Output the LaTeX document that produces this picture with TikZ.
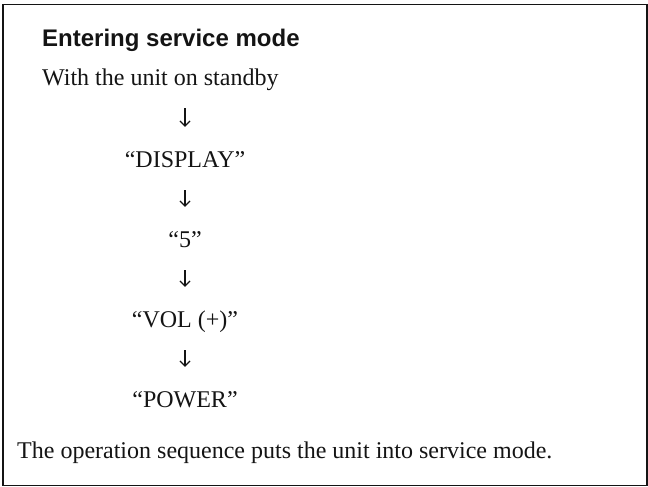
\documentclass[tikz,border=0pt]{standalone}
\usepackage{fontspec}
\setmainfont{Liberation Serif}
\setsansfont{Liberation Sans}
\usepackage{xcolor}
\definecolor{manualInk}{RGB}{20, 20, 20}
\usepackage{tikz}
\usetikzlibrary{
    arrows.meta,
    positioning,
    calc
}

\begin{document}
\begin{tikzpicture}[
    x=1pt, y=-1pt,
    headTitle/.style={
        font={\fontsize{24}{28}\selectfont\sffamily\bfseries},
        text=manualInk, anchor=base west, inner sep=0pt
    },
    plainText/.style={
        font={\fontsize{24}{28}\selectfont},
        text=manualInk, anchor=base west, inner sep=0pt,
        text depth=5pt
    },
    keyStep/.style={
        plainText, anchor=base,
        text height=17pt, text depth=5pt
    },
    flowLine/.style={
        -{Straight Barb[length=5pt,width=10pt]}, line width=1.2pt, draw=manualInk,
        shorten <=18pt, shorten >=23pt
    },
    frameLine/.style={
        draw=manualInk, line width=1.3pt
    }
]

    \useasboundingbox (0,0) rectangle (648,487);

    % Frame
    \draw[frameLine] (3,4.5) rectangle (647,485.5);

    % Nodes
    \node[headTitle] (title) at (42,47) {Entering service mode};
    \node[plainText] (standby) at (42,85) {With the unit on standby};

    \node[keyStep] (display) at (185,167) {“DISPLAY”};
    \node[keyStep] (five) at (185,247) {“5”};
    \node[keyStep] (volUp) at (185,327) {“VOL (+)”};
    \node[keyStep] (power) at (185,407) {“POWER”};

    \node[plainText] (result) at (17,458) {The operation sequence puts the unit into service mode.};

    % Connections
    \draw[flowLine] (display.north |- standby.south) -- (display.north);
    \draw[flowLine] (display) -- (five);
    \draw[flowLine] (five) -- (volUp);
    \draw[flowLine] (volUp) -- (power);

\end{tikzpicture}
\end{document}
